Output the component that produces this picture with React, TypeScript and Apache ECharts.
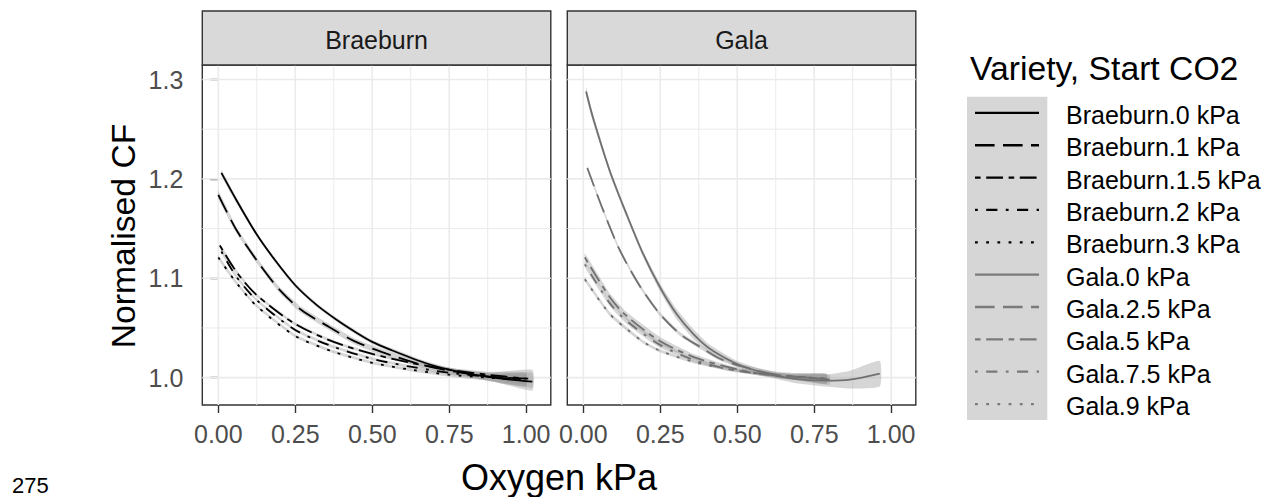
import React, { useEffect, useRef } from 'react';
import * as echarts from 'echarts';

// ---- axis values ----
const xTicks = [0, 0.25, 0.5, 0.75, 1.0];
const xMinor = [0.125, 0.375, 0.625, 0.875];
const yTicks = [1.0, 1.1, 1.2, 1.3];
const yMinor = [1.05, 1.15, 1.25];
const X_MIN = -0.052;
const X_MAX = 1.08;
const Y_MIN = 0.9725;
const Y_MAX = 1.3146;

const panels = ['Braeburn', 'Gala'];
const legendTitle = 'Variety, Start CO2';
const legendLabels = [
  'Braeburn.0 kPa', 'Braeburn.1 kPa', 'Braeburn.1.5 kPa', 'Braeburn.2 kPa', 'Braeburn.3 kPa',
  'Gala.0 kPa', 'Gala.2.5 kPa', 'Gala.5 kPa', 'Gala.7.5 kPa', 'Gala.9 kPa',
];

// ---- fitted curves: [oxygen kPa, normalised CF, band half-width] ----
const braeburn0 = [
  [0.01, 1.206, 0.003], [0.06, 1.178, 0.003], [0.125, 1.144, 0.002], [0.18, 1.12, 0.002],
  [0.25, 1.093, 0.002], [0.32, 1.073, 0.002], [0.39, 1.057, 0.002], [0.45, 1.045, 0.002],
  [0.5, 1.036, 0.002], [0.56, 1.028, 0.002], [0.67, 1.015, 0.002], [0.75, 1.008, 0.002],
  [0.83, 1.003, 0.003], [0.92, 0.999, 0.005], [1.02, 0.996, 0.009],
];
const braeburn1 = [
  [0.0, 1.184, 0.004], [0.06, 1.148, 0.003], [0.125, 1.118, 0.003], [0.2, 1.088, 0.003],
  [0.27, 1.068, 0.003], [0.36, 1.051, 0.003], [0.44, 1.037, 0.003], [0.53, 1.026, 0.003],
  [0.66, 1.013, 0.003], [0.77, 1.006, 0.003], [0.88, 1.001, 0.004], [1.02, 0.999, 0.009],
];
const braeburn15 = [
  [0.005, 1.133, 0.002], [0.06, 1.106, 0.002], [0.125, 1.083, 0.0015], [0.25, 1.054, 0.0015],
  [0.375, 1.036, 0.0015], [0.5, 1.024, 0.0015], [0.625, 1.015, 0.0015], [0.75, 1.008, 0.002],
  [0.875, 1.003, 0.003], [1.0, 0.999, 0.006],
];
const braeburn2 = [
  [0.01, 1.127, 0.002], [0.06, 1.101, 0.002], [0.125, 1.078, 0.0015], [0.25, 1.048, 0.0015],
  [0.375, 1.031, 0.0015], [0.5, 1.019, 0.0015], [0.625, 1.011, 0.0015], [0.75, 1.005, 0.002],
  [0.875, 1.001, 0.003], [1.0, 0.998, 0.006],
];
const braeburn3 = [
  [0.0, 1.121, 0.002], [0.06, 1.095, 0.002], [0.125, 1.072, 0.0015], [0.25, 1.042, 0.0015],
  [0.375, 1.026, 0.0015], [0.5, 1.015, 0.0015], [0.625, 1.008, 0.0015], [0.75, 1.003, 0.002],
  [0.875, 1.0, 0.003], [1.0, 0.997, 0.006],
];
const gala0 = [
  [0.009, 1.288, 0.004], [0.032, 1.261, 0.004], [0.086, 1.208, 0.003], [0.141, 1.164, 0.003],
  [0.195, 1.124, 0.003], [0.249, 1.091, 0.004], [0.303, 1.064, 0.005], [0.357, 1.044, 0.005],
  [0.411, 1.029, 0.004], [0.498, 1.014, 0.003], [0.574, 1.006, 0.003], [0.682, 0.999, 0.004],
  [0.79, 0.997, 0.006], [0.866, 0.998, 0.009], [0.963, 1.004, 0.013],
];
const gala25 = [
  [0.013, 1.211, 0.002], [0.065, 1.168, 0.002], [0.119, 1.128, 0.002], [0.184, 1.092, 0.002],
  [0.249, 1.064, 0.002], [0.314, 1.044, 0.002], [0.379, 1.031, 0.002], [0.444, 1.019, 0.002],
  [0.519, 1.011, 0.002], [0.627, 1.003, 0.003], [0.735, 1.0, 0.004], [0.8, 0.998, 0.005],
];
const gala5 = [
  [0.005, 1.121, 0.004], [0.086, 1.081, 0.004], [0.141, 1.062, 0.004], [0.249, 1.037, 0.004],
  [0.357, 1.021, 0.003], [0.465, 1.011, 0.002], [0.574, 1.004, 0.002], [0.682, 1.001, 0.003],
  [0.79, 0.999, 0.005],
];
const gala75 = [
  [0.005, 1.114, 0.003], [0.086, 1.075, 0.003], [0.141, 1.057, 0.003], [0.249, 1.033, 0.003],
  [0.357, 1.018, 0.002], [0.465, 1.009, 0.002], [0.574, 1.004, 0.002], [0.682, 1.001, 0.003],
  [0.79, 0.999, 0.005],
];
const gala9 = [
  [0.005, 1.099, 0.002], [0.086, 1.064, 0.002], [0.141, 1.049, 0.002], [0.195, 1.036, 0.0015],
  [0.249, 1.027, 0.0015], [0.357, 1.016, 0.0015], [0.465, 1.009, 0.0015], [0.574, 1.004, 0.0015],
  [0.682, 1.001, 0.002], [0.79, 0.999, 0.004],
];

const curveData = [braeburn0, braeburn1, braeburn15, braeburn2, braeburn3, gala0, gala25, gala5, gala75, gala9];
const curvePanel = [0, 0, 0, 0, 0, 1, 1, 1, 1, 1];

// ---- styles ----
const BLACK = '#000000';
const GREY = '#707070';
const DASHES: any[] = [
  'solid',
  [19.6, 8.4],
  [5.6, 5.6, 16.8, 5.6],
  [2.8, 8.4, 11.2, 8.4],
  [2.8, 8.4],
];
const FONT = '"Liberation Sans", Arial, Helvetica, sans-serif';
const SMALL = 25;
const LARGE = 33.7;

const GRIDS = [
  { left: 202.3, top: 65, width: 348.5, height: 340 },
  { left: 567.3, top: 65, width: 348.5, height: 340 },
];

function gridLineSeries(panel: number, values: number[], vertical: boolean, width: number) {
  return {
    type: 'custom',
    xAxisIndex: panel,
    yAxisIndex: panel,
    z: 1,
    silent: true,
    data: values.map((v) => (vertical ? [v, Y_MIN] : [X_MIN, v])),
    renderItem: (params: any, api: any) => {
      const v = vertical ? api.value(0) : api.value(1);
      const a = vertical ? api.coord([v, Y_MIN]) : api.coord([X_MIN, v]);
      const b = vertical ? api.coord([v, Y_MAX]) : api.coord([X_MAX, v]);
      return {
        type: 'line',
        shape: { x1: a[0], y1: a[1], x2: b[0], y2: b[1] },
        style: { stroke: '#EBEBEB', lineWidth: width },
      };
    },
  };
}

function bandSeries(idx: number) {
  const d = curveData[idx];
  const panel = curvePanel[idx];
  return {
    type: 'custom',
    xAxisIndex: panel,
    yAxisIndex: panel,
    z: 2,
    silent: true,
    data: [[d[0][0], d[0][1]]],
    renderItem: (params: any, api: any) => {
      const upper = d.map((p) => api.coord([p[0], p[1] + p[2]]));
      const lower = d.slice().reverse().map((p) => api.coord([p[0], p[1] - p[2]]));
      return {
        type: 'polygon',
        shape: { points: upper.concat(lower), smooth: 0.15 },
        style: { fill: 'rgba(153,153,153,0.4)' },
      };
    },
  };
}

function lineSeries(idx: number) {
  const panel = curvePanel[idx];
  return {
    type: 'line',
    name: legendLabels[idx],
    xAxisIndex: panel,
    yAxisIndex: panel,
    z: 3,
    silent: true,
    showSymbol: false,
    symbol: 'none',
    smooth: 0.3,
    data: curveData[idx].map((p) => [p[0], p[1]]),
    lineStyle: {
      color: panel === 0 ? BLACK : GREY,
      width: 1.8,
      type: DASHES[idx % 5],
      cap: 'butt',
    },
  };
}

function buildOption() {
  const series: any[] = [];
  [0, 1].forEach((p) => {
    series.push(gridLineSeries(p, xMinor, true, 1.0));
    series.push(gridLineSeries(p, yMinor, false, 1.0));
    series.push(gridLineSeries(p, xTicks, true, 1.6));
    series.push(gridLineSeries(p, yTicks, false, 1.6));
  });
  curveData.forEach((_, i) => series.push(bandSeries(i)));
  curveData.forEach((_, i) => series.push(lineSeries(i)));

  const xAxis = [0, 1].map((p) => ({
    type: 'value',
    gridIndex: p,
    min: X_MIN,
    max: X_MAX,
    axisLine: { show: false },
    splitLine: { show: false },
    axisTick: {
      show: true,
      length: 8,
      customValues: xTicks,
      lineStyle: { color: '#333333', width: 1.4 },
    },
    axisLabel: {
      show: true,
      customValues: xTicks,
      margin: 16,
      color: '#4D4D4D',
      fontSize: SMALL,
      fontFamily: FONT,
      formatter: (v: number) => v.toFixed(2),
    },
  }));
  const yAxis = [0, 1].map((p) => ({
    type: 'value',
    gridIndex: p,
    min: Y_MIN,
    max: Y_MAX,
    axisLine: { show: false },
    splitLine: { show: false },
    axisTick: {
      show: p === 0,
      length: 8,
      customValues: yTicks,
      lineStyle: { color: '#333333', width: 1.4 },
    },
    axisLabel: {
      show: p === 0,
      customValues: yTicks,
      margin: 19,
      color: '#4D4D4D',
      fontSize: SMALL,
      fontFamily: FONT,
      formatter: (v: number) => v.toFixed(1),
    },
  }));

  const graphic: any[] = [];
  // facet strips
  GRIDS.forEach((g, p) => {
    graphic.push({
      type: 'rect',
      shape: { x: g.left, y: 11, width: g.width, height: 54 },
      style: { fill: '#D9D9D9', stroke: '#333333', lineWidth: 1.4 },
      z: 10,
    });
    graphic.push({
      type: 'text',
      x: g.left + g.width / 2,
      y: 39.5,
      style: {
        text: panels[p], fill: '#1A1A1A', fontSize: SMALL, fontFamily: FONT,
        align: 'center', verticalAlign: 'middle', textAlign: 'center', textVerticalAlign: 'middle',
      },
      z: 11,
    });
  });
  // axis titles
  graphic.push({
    type: 'text',
    x: 122.5,
    y: 236,
    rotation: Math.PI / 2,
    style: {
      text: 'Normalised CF', fill: '#000', fontSize: LARGE, fontFamily: FONT,
      align: 'center', verticalAlign: 'middle', textAlign: 'center', textVerticalAlign: 'middle',
    },
  });
  graphic.push({
    type: 'text',
    x: 559,
    y: 477,
    style: {
      text: 'Oxygen kPa', fill: '#000', fontSize: 36, fontFamily: FONT,
      align: 'center', verticalAlign: 'middle', textAlign: 'center', textVerticalAlign: 'middle',
    },
  });
  // legend
  graphic.push({
    type: 'text',
    x: 970,
    y: 67.5,
    style: {
      text: legendTitle, fill: '#000', fontSize: LARGE, fontFamily: FONT,
      align: 'left', verticalAlign: 'middle', textAlign: 'left', textVerticalAlign: 'middle',
    },
  });
  graphic.push({
    type: 'rect',
    shape: { x: 967, y: 96.7, width: 80.3, height: 323.3 },
    style: { fill: '#D6D6D6' },
  });
  legendLabels.forEach((lab, i) => {
    const cy = 112.9 + 32.35 * i;
    const dash = DASHES[i % 5];
    graphic.push({
      type: 'line',
      shape: { x1: 975, y1: cy, x2: 1039, y2: cy },
      style: {
        stroke: i < 5 ? BLACK : '#7A7A7A',
        lineWidth: 2.3,
        lineDash: dash === 'solid' ? null : dash,
        lineCap: 'butt',
      },
    });
    graphic.push({
      type: 'text',
      x: 1066,
      y: cy + 2,
      style: {
        text: lab, fill: '#000', fontSize: SMALL, fontFamily: FONT,
        align: 'left', verticalAlign: 'middle', textAlign: 'left', textVerticalAlign: 'middle',
      },
    });
  });
  // page number fragment at the bottom-left edge
  graphic.push({
    type: 'text',
    x: 12,
    y: 485,
    style: {
      text: '275', fill: '#000', fontSize: 22, fontFamily: FONT,
      align: 'left', verticalAlign: 'middle', textAlign: 'left', textVerticalAlign: 'middle',
    },
  });

  return {
    animation: false,
    backgroundColor: '#FFFFFF',
    grid: GRIDS.map((g) => ({
      ...g,
      show: true,
      backgroundColor: '#FFFFFF',
      borderColor: '#333333',
      borderWidth: 1.4,
    })),
    xAxis,
    yAxis,
    series,
    graphic,
  };
}

export default function App() {
  const ref = useRef<HTMLDivElement>(null);
  useEffect(() => {
    if (!ref.current) return;
    const chart = echarts.init(ref.current, undefined, { renderer: 'svg' });
    chart.setOption(buildOption() as any);
    return () => chart.dispose();
  }, []);
  return (
    <div
      ref={ref}
      style={{ position: 'fixed', left: 0, top: 0, width: 1276, height: 497, background: '#fff' }}
    />
  );
}
